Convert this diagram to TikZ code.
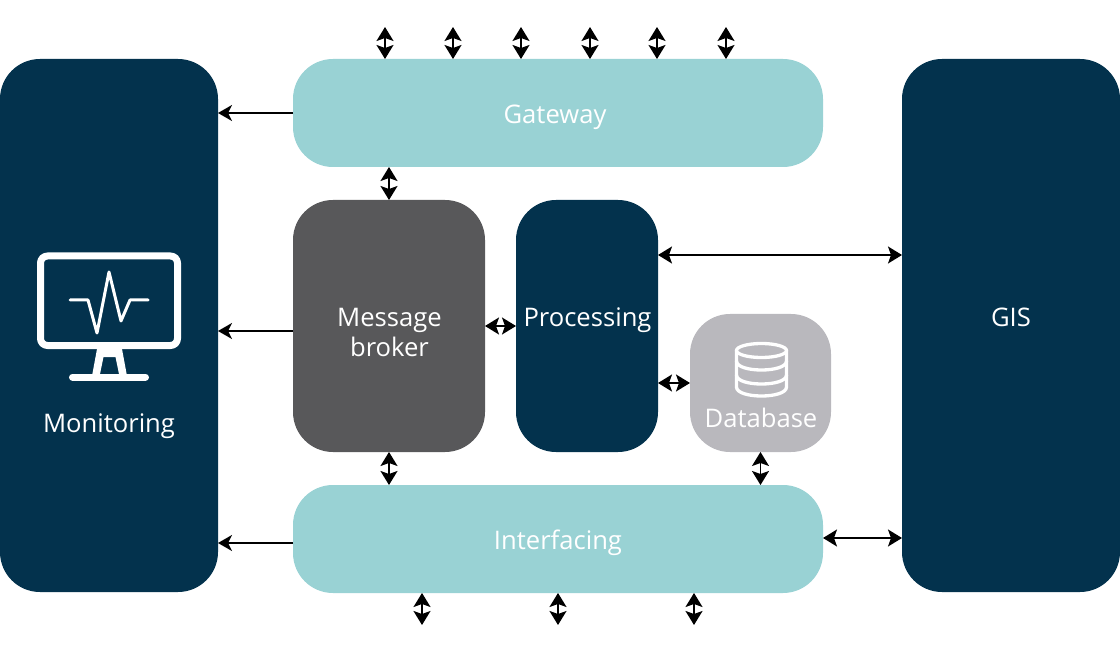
\documentclass[tikz,border=0pt]{standalone}
\usepackage{fontspec}
\setmainfont{Open Sans}
\usetikzlibrary{arrows.meta,positioning,calc}
\definecolor{navy}{HTML}{03324D}
\definecolor{teal}{HTML}{99D2D4}
\definecolor{slate}{HTML}{58585A}
\definecolor{silver}{HTML}{B9B8BD}

\begin{document}
\begin{tikzpicture}[
      x=1pt, y=-1pt, font=\fontsize{25.6}{30}\selectfont, node distance=33pt and 31pt,
      blk/.style={rounded corners=40pt, inner sep=0pt, outer sep=0pt},
      tall/.style={blk, fill=navy, minimum width=218pt, minimum height=533pt},
      wide/.style={blk, fill=teal, minimum width=530pt, minimum height=108pt},
      lbl/.style={text=white, align=center, inner sep=0pt},
      arr/.style={-{Stealth[length=14pt,width=16pt,inset=4pt]}, line width=1.6pt},
      dbl/.style={{Stealth[length=14pt,width=17pt,inset=3pt]}-{Stealth[length=14pt,width=17pt,inset=3pt]}, line width=1.6pt},
      icon/.style={draw=white, line join=round, line cap=round},
    ]
    \useasboundingbox (0,0) rectangle (1120,647);

    % --- boxes ---
    \node[tall, anchor=north west] (mon) at (0,59) {};
    \node[tall, anchor=north east] (gis) at (1120,59) {};
    \node[wide, anchor=north west] (gw) at (293,59) {};
    \node[blk, fill=slate, below=33pt of gw.south west, anchor=north west,
      minimum width=192pt, minimum height=252pt] (broker) {};
    \node[blk, fill=navy, right=31pt of broker.north east, anchor=north west,
      minimum width=142pt, minimum height=252pt] (proc) {};
    \node[blk, fill=silver, anchor=south west, minimum width=141pt, minimum height=138pt]
      (db) at ($(proc.south east)+(32,0)$) {};
    \node[wide, below=33pt of broker.south west, anchor=north west] (ifc) {};

    % --- labels ---
    \node[lbl] (gwtxt) at (555,117.5) {Gateway};
    \node[lbl] (ifctxt) at (558,543) {Interfacing};
    \node[lbl] (brokertxt) at (389.5,332.5) {Message\\[0pt]broker};
    \node[lbl] (proctxt) at (587.5,320) {Processing};
    \node[lbl] (dbtxt) at (761,418) {Database};
    \node[lbl] (montxt) at (109,426) {Monitoring};
    \node[lbl] (gistxt) at (1011,317) {GIS};

    % --- screen icon ---
    \draw[icon, line width=7pt, rounded corners=7pt] (40.5,256) rectangle (177.5,345.5);
    \draw[icon, line width=3pt] (70,300) -- (88,300) -- (97,333) -- (109,272) -- (121,321) -- (130,300) -- (148,300);
    \fill[white, even odd rule] (97,349) -- (122,349) -- (127,376) -- (92,376) -- cycle
      (103.5,357) -- (115.5,357) -- (119,374) -- (100,374) -- cycle;
    \draw[icon, line width=7pt] (72.5,377) -- (145.5,377);

    % --- cylinder icon ---
    \draw[icon, line width=3.3pt] (761.5,350.5) ellipse (25 and 7);
    \draw[icon, line width=3.3pt] (736.5,350.5) -- (736.5,387) .. controls (736.5,399) and (786.5,399) .. (786.5,387) -- (786.5,350.5);
    \draw[icon, line width=3.3pt] (736.5,361) .. controls (736.5,373) and (786.5,373) .. (786.5,361);
    \draw[icon, line width=3.3pt] (736.5,375) .. controls (736.5,387) and (786.5,387) .. (786.5,375);

    % --- links to the monitoring column ---
    \draw[arr] (gw.west) -- (gw.west -| mon.east);
    \coordinate (brokerout) at ($(broker.west)+(0,5)$);
    \draw[arr] (brokerout) -- (brokerout -| mon.east);
    \coordinate (ifcout) at ($(ifc.west)+(0,4)$);
    \draw[arr] (ifcout) -- (ifcout -| mon.east);

    % --- links between the boxes ---
    \draw[dbl] (gw.south -| broker.north) -- (broker.north);
    \draw[dbl] (broker.south) -- (ifc.north -| broker.south);
    \draw[dbl] (broker.east) -- (broker.east -| proc.west);
    \coordinate (dblink) at (db.west |- 0,383);
    \draw[dbl] (dblink -| proc.east) -- (dblink);
    \draw[dbl] (db.south) -- (ifc.north -| db.south);
    \coordinate (gislink) at (gis.west |- 0,255);
    \draw[dbl] (gislink -| proc.east) -- (gislink);
    \coordinate (ifclink) at (gis.west |- 0,538);
    \draw[dbl] (ifclink -| ifc.east) -- (ifclink);

    % --- external links ---
    \foreach \x in {385,453,521,590,657,726} {
      \coordinate (top\x) at (\x,27);
      \draw[dbl] (top\x) -- (top\x |- gw.north);
    }
    \foreach \x in {422,558,694} {
      \coordinate (bot\x) at (\x,625);
      \draw[dbl] (bot\x |- ifc.south) -- (bot\x);
    }
  \end{tikzpicture}
\end{document}
